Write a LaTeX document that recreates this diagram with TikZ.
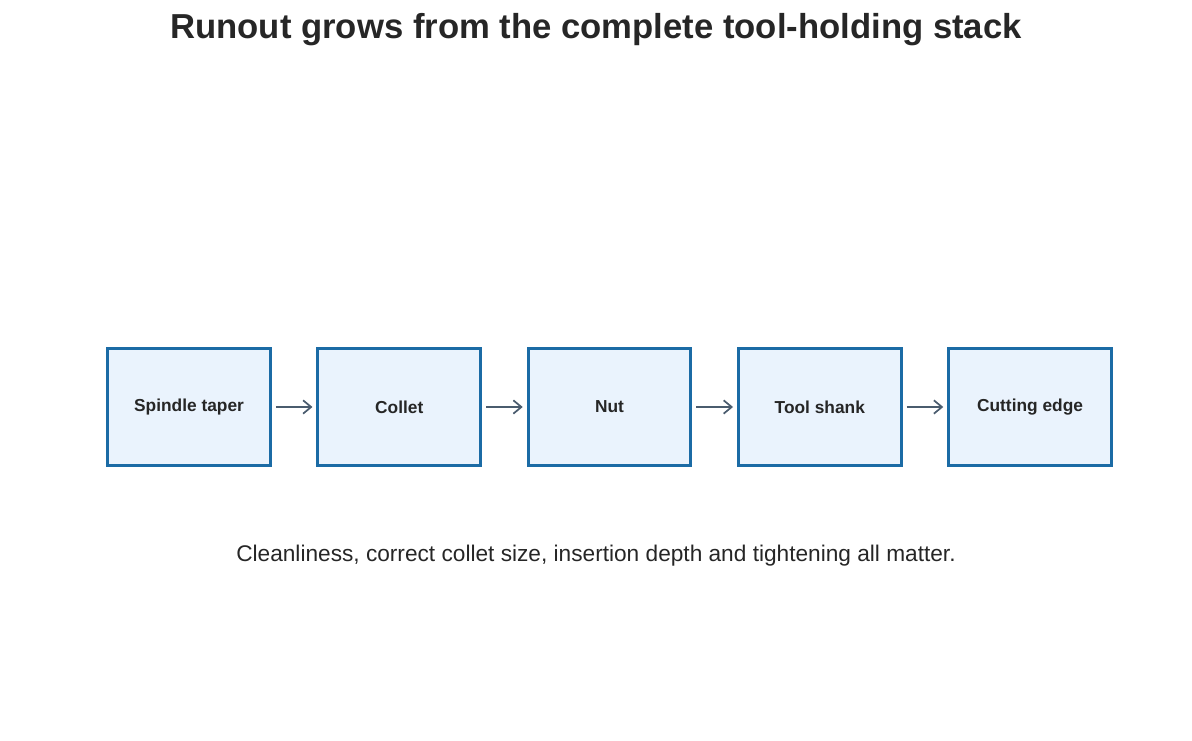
\documentclass[tikz,border=0pt]{standalone}
\usepackage{fontspec}
\setmainfont{Liberation Sans}
\usetikzlibrary{positioning,arrows.meta}
\definecolor{boxblue}{HTML}{1B6BA5}
\definecolor{boxfill}{HTML}{EAF3FD}
\definecolor{arrowgray}{HTML}{4A5C6E}
\definecolor{txt}{HTML}{262626}
\tikzset{
  stage/.style={draw=boxblue, line width=2.2pt, fill=boxfill, minimum width=122pt, minimum height=88pt, inner sep=0pt, font=\fontsize{13}{15}\selectfont\bfseries, text=txt},
  flow/.style={draw=arrowgray, line width=1.3pt, -{Straight Barb[length=6pt,width=10pt]}, shorten >=3pt, shorten <=3pt}
}
\begin{document}
\begin{tikzpicture}[x=0.75pt,y=-0.75pt]
  \useasboundingbox (0,0) rectangle (1192,741);
  \node[font=\fontsize{26}{30}\selectfont\bfseries, text=txt] (title) at (596,30) {Runout grows from the complete tool-holding stack};
  \node[stage] (taper) at (189,407) {Spindle taper};
  \node[stage, right=33.5pt of taper] (collet) {Collet};
  \node[stage, right=33.5pt of collet] (nut) {Nut};
  \node[stage, right=33.5pt of nut] (shank) {Tool shank};
  \node[stage, right=33.5pt of shank] (edge) {Cutting edge};
  \foreach \a/\b in {taper/collet, collet/nut, nut/shank, shank/edge}
    \draw[flow] (\a) -- (\b);
  \node[font=\fontsize{17}{20}\selectfont, text=txt] (note) at (596,556) {Cleanliness, correct collet size, insertion depth and tightening all matter.};
\end{tikzpicture}
\end{document}
